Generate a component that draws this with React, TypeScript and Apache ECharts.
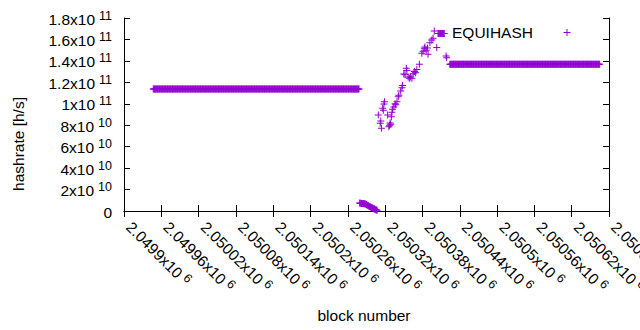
import React, { useEffect, useRef } from "react";
import * as echarts from "echarts";

const COLOR = "#9400d3";
const FONT = "Liberation Sans";
const FS = 15.5;

// x axis (block number) scale
const xMin = 2049900;
const xMax = 2050680;
const xStep = 60;
// y axis (hashrate) scale
const yMin = 0;
const yMax = 1.8e11;
const yStep = 2e10;

const seriesName = "EQUIHASH";

// runs of consecutive blocks that share one constant hashrate
const runStart = [2049947, 2050424];
const runEnd = [2050278, 2050665];
const runValue = [1.138e11, 1.368e11];

// the short collapse just after the first run (one value per block)
const dropStart = 2050279;
const dropValues = [
  7.4e9, 7.3e9, 7.2e9, 7.1e9, 7.0e9, 6.9e9, 6.9e9, 6.8e9, 6.7e9, 6.5e9, 6.3e9,
  6.0e9, 5.6e9, 5.2e9, 4.8e9, 4.5e9, 4.2e9, 3.9e9, 3.6e9, 3.3e9, 3.0e9, 2.7e9,
  2.4e9, 2.1e9, 1.8e9, 1.5e9, 1.2e9, 0.9e9, 0.6e9,
];

// the noisy recovery between the two runs
const riseBlocks = [
  2050309, 2050312, 2050313, 2050314, 2050316, 2050317, 2050318, 2050319,
  2050324, 2050326, 2050327, 2050328, 2050329, 2050330, 2050331, 2050332,
  2050334, 2050336, 2050337, 2050339, 2050341, 2050342, 2050345, 2050347,
  2050348, 2050350, 2050352, 2050354, 2050355, 2050357, 2050359, 2050361,
  2050363, 2050365, 2050367, 2050369, 2050371, 2050375, 2050379, 2050381,
  2050383, 2050384, 2050386, 2050388, 2050389, 2050392, 2050395, 2050397,
  2050399, 2050403, 2050405, 2050406, 2050407, 2050408, 2050409, 2050410,
  2050411, 2050412, 2050413, 2050414, 2050415, 2050418, 2050419,
];
const riseValues = [
  0.895e11, 0.818e11, 0.84e11, 0.771e11, 0.958e11, 0.94e11, 0.998e11, 1.02e11,
  0.895e11, 0.786e11, 0.8e11, 0.82e11, 0.81e11, 0.88e11, 0.92e11, 0.95e11,
  0.97e11, 1.0e11, 0.99e11, 1.02e11, 1.066e11, 1.08e11, 1.12e11, 1.15e11,
  1.17e11, 1.278e11, 1.27e11, 1.332e11, 1.31e11, 1.25e11, 1.237e11, 1.25e11,
  1.237e11, 1.28e11, 1.3e11, 1.29e11, 1.32e11, 1.368e11, 1.471e11, 1.49e11,
  1.517e11, 1.53e11, 1.5e11, 1.52e11, 1.461e11, 1.57e11, 1.595e11, 1.61e11,
  1.679e11, 1.526e11, 1.655e11, 1.655e11, 1.655e11, 1.655e11, 1.655e11, 1.655e11,
  1.655e11, 1.655e11, 1.655e11, 1.655e11, 1.655e11, 1.446e11, 1.43e11,
];

const CROSS = "path://M3,0h1v3h3v1h-3v3h-1v-3h-3v-1h3z";

function sci(v: number): string {
  if (v === 0) return "{a|0}";
  const e = Math.floor(Math.log10(Math.abs(v)) + 1e-9);
  const m = parseFloat((v / Math.pow(10, e)).toFixed(5));
  return `{a|${m}x10}{s|${e}}`;
}

const supStyle = {
  fontFamily: FONT,
  fontSize: 12.5,
  color: "#000",
  lineHeight: 18,
  verticalAlign: "bottom",
  padding: [0, 0, 5, 4],
};

const richY = {
  a: { fontFamily: FONT, fontSize: FS, color: "#000", lineHeight: 18, verticalAlign: "bottom" },
  s: supStyle,
};

const richX = {
  a: {
    fontFamily: FONT,
    fontSize: FS,
    color: "#000",
    lineHeight: 18,
    verticalAlign: "bottom",
    padding: [0, 0, 0, 8],
  },
  s: supStyle,
};

function buildData(): number[][] {
  const pts: number[][] = [];
  for (let r = 0; r < runStart.length; r++) {
    for (let b = runStart[r]; b <= runEnd[r]; b++) pts.push([b, runValue[r]]);
  }
  dropValues.forEach((v, i) => pts.push([dropStart + i, v]));
  riseBlocks.forEach((b, i) => pts.push([b, riseValues[i]]));
  return pts;
}

export default function App() {
  const ref = useRef<HTMLDivElement>(null);
  useEffect(() => {
    if (!ref.current) return;
    const chart = echarts.init(ref.current, undefined, { renderer: "svg" });
    const axisLine = { show: true, lineStyle: { color: "#000", width: 1 } };
    const tick = { show: true, inside: true, length: 6, lineStyle: { color: "#000", width: 1 } };
    chart.setOption({
      animation: false,
      backgroundColor: "#fff",
      grid: {
        left: 124,
        right: 31,
        top: 18,
        bottom: 119,
        containLabel: false,
        outerBoundsMode: "none",
      },
      xAxis: [
        {
          type: "value",
          min: xMin,
          max: xMax,
          interval: xStep,
          position: "bottom",
          axisLine,
          axisTick: tick,
          splitLine: { show: false },
          axisLabel: {
            rotate: -45,
            margin: 7,
            interval: 0,
            showMinLabel: true,
            showMaxLabel: true,
            hideOverlap: false,
            formatter: (v: number) => sci(v),
            rich: richX,
          },
        },
        {
          type: "value",
          min: xMin,
          max: xMax,
          interval: xStep,
          position: "top",
          axisLine,
          axisTick: tick,
          splitLine: { show: false },
          axisLabel: { show: false },
        },
      ],
      yAxis: [
        {
          type: "value",
          min: yMin,
          max: yMax,
          interval: yStep,
          position: "left",
          axisLine,
          axisTick: tick,
          splitLine: { show: false },
          axisLabel: {
            margin: 12,
            formatter: (v: number) => sci(v),
            rich: richY,
          },
        },
        {
          type: "value",
          min: yMin,
          max: yMax,
          interval: yStep,
          position: "right",
          axisLine,
          axisTick: tick,
          splitLine: { show: false },
          axisLabel: { show: false },
        },
      ],
      series: [
        {
          name: seriesName,
          type: "scatter",
          data: buildData(),
          symbol: CROSS,
          symbolSize: 7,
          itemStyle: { color: COLOR, opacity: 1 },
          emphasis: { disabled: true },
          silent: true,
        },
      ],
      graphic: [
        {
          type: "text",
          x: 18,
          y: 144,
          rotation: Math.PI / 2,
          style: {
            text: "hashrate [h/s]",
            font: `${FS}px "${FONT}"`,
            fill: "#000",
            align: "center",
            verticalAlign: "middle",
          },
        },
        {
          type: "text",
          x: 364,
          y: 315,
          style: {
            text: "block number",
            font: `${FS}px "${FONT}"`,
            fill: "#000",
            align: "center",
            verticalAlign: "middle",
          },
        },
        {
          type: "text",
          x: 533,
          y: 32,
          style: {
            text: seriesName,
            font: `${FS}px "${FONT}"`,
            fill: "#000",
            align: "right",
            verticalAlign: "middle",
          },
        },
        {
          type: "line",
          shape: { x1: 563.5, y1: 32.5, x2: 570.5, y2: 32.5 },
          style: { stroke: COLOR, lineWidth: 1 },
        },
        {
          type: "line",
          shape: { x1: 567, y1: 29, x2: 567, y2: 36 },
          style: { stroke: COLOR, lineWidth: 1 },
        },
      ],
    });
    return () => chart.dispose();
  }, []);
  return (
    <div
      ref={ref}
      style={{ position: "fixed", left: 0, top: 0, width: 640, height: 330, background: "#fff" }}
    />
  );
}
